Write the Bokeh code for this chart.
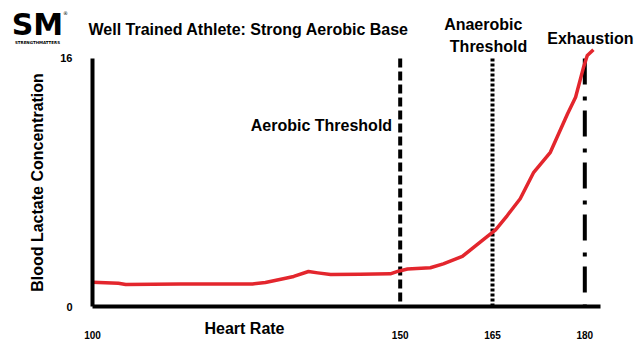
from bokeh.plotting import figure
from bokeh.models import Label, FixedTicker, Range1d, ColumnDataSource, LinearAxis
from bokeh.embed import file_html
from bokeh.resources import INLINE

# ---- data ----
heart_rate = [100.0, 104.2, 105.4, 114.3, 126.0, 128.1, 131.0, 132.7, 135.1, 136.6,
              138.7, 143.5, 148.4, 149.7, 151.2, 154.9, 157.0, 160.1, 163.0, 165.5,
              167.4, 169.5, 171.7, 174.4, 177.2, 178.5, 179.8, 180.4, 181.4]
lactate = [1.57, 1.50, 1.42, 1.45, 1.46, 1.55, 1.79, 1.94, 2.26, 2.17,
           2.06, 2.08, 2.11, 2.28, 2.42, 2.50, 2.75, 3.23, 4.15, 4.95,
           5.87, 6.95, 8.66, 9.95, 12.43, 13.50, 15.44, 16.19, 16.56]

threshold_hr = [150, 165, 180]
threshold_names = ["Aerobic Threshold", "Anaerobic Threshold", "Exhaustion"]
threshold_top = 16

x_ticks = [100, 150, 165, 180]
y_ticks = [0, 16]
x_axis_end = 182.55

title_text = "Well Trained Athlete: Strong Aerobic Base"
x_label = "Heart Rate"
y_label = "Blood Lactate Concentration"

FONT = "Liberation Sans"

p = figure(width=640, height=353, output_backend="svg", toolbar_location=None,
           title=None, x_axis_location=None, y_axis_location=None,
           x_range=Range1d(85.05, 189.05), y_range=Range1d(-3.03, 19.74),
           min_border=0)
p.outline_line_color = None
p.xgrid.visible = False
p.ygrid.visible = False
p.background_fill_color = "white"
p.border_fill_color = "white"

# axes drawn at fixed data positions inside the frame
xax = LinearAxis(fixed_location=0, bounds=(100, x_axis_end), ticker=FixedTicker(ticks=x_ticks))
yax = LinearAxis(fixed_location=100, bounds=(0, 16), ticker=FixedTicker(ticks=y_ticks))
for ax in (xax, yax):
    ax.axis_line_width = 4
    ax.axis_line_color = "black"
    ax.major_tick_line_color = None
    ax.minor_tick_line_color = None
    ax.major_label_text_font = FONT
    ax.major_label_text_font_style = "bold"
    ax.major_label_text_color = "black"
    ax.major_label_text_font_size = "10px"
yax.major_label_text_font_size = "11px"
xax.major_label_standoff = 18
yax.major_label_standoff = 14
yax.axis_label = y_label
yax.axis_label_text_font = FONT
yax.axis_label_text_font_style = "bold"
yax.axis_label_text_font_size = "16px"
yax.axis_label_text_color = "black"
yax.axis_label_standoff = 11
p.add_layout(xax, "below")
p.add_layout(yax, "left")

# threshold lines
dashes = ["9 4", "3 2", "26 12 4 10"]
for hr, dash in zip(threshold_hr, dashes):
    src = ColumnDataSource(dict(x0=[hr], y0=[threshold_top], x1=[hr], y1=[0]))
    p.segment(x0="x0", y0="y0", x1="x1", y1="y1", source=src,
              line_color="black", line_width=4, line_dash=dash)

# lactate curve
p.line(heart_rate, lactate, line_color="#e3262d", line_width=3.5, line_join="round")

def lab(x, y, text, size="16px", align="center", font=FONT, color="black", style="bold"):
    p.add_layout(Label(x=x, y=y, text=text, text_font=font, text_font_size=size,
                       text_font_style=style, text_align=align, text_baseline="middle",
                       text_color=color))

lab(99.35, 17.87, title_text, align="left")
lab(124.7, -1.42, x_label)
lab(137.2, 11.68, threshold_names[0])
lab(163.5, 18.19, "Anaerobic")
lab(164.35, 16.77, "Threshold")
lab(180.9, 17.29, threshold_names[2])

# logo
lab(91.06, 18.2, "SM", size="30px", font="DejaVu Sans")
lab(91.06, 17.05, "STRENGTHMATTERS", size="4px", font="DejaVu Sans")
lab(95.6, 18.95, "®", size="5px", font="DejaVu Sans", style="normal")

open("out.html", "w").write(file_html(p, INLINE))
